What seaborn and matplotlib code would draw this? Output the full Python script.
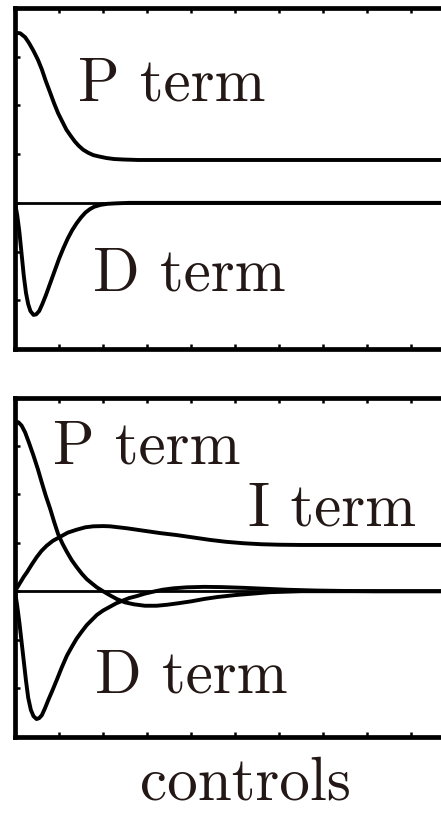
import matplotlib
matplotlib.use("Agg")
import matplotlib.pyplot as plt
import seaborn as sns
import pandas as pd

# ---- PD controller: response of each term ----
pd_p_t = [0, 0.04, 0.12, 0.23, 0.32, 0.42, 0.52, 0.61, 0.70, 0.80, 0.89, 0.98, 1.08,
          1.17, 1.27, 1.36, 1.45, 1.55, 1.66, 1.78, 1.92, 2.08, 2.25, 2.46, 2.8, 3.5, 10]
pd_p_v = [3.46, 3.49, 3.48, 3.40, 3.28, 3.12, 2.94, 2.74, 2.50, 2.26, 2.04, 1.84, 1.66,
          1.50, 1.37, 1.26, 1.17, 1.09, 1.03, 0.98, 0.95, 0.92, 0.90, 0.89, 0.88, 0.88, 0.88]

pd_d_t = [0, 0.05, 0.1, 0.15, 0.2, 0.25, 0.3, 0.35, 0.42, 0.48, 0.55, 0.62, 0.7, 0.8,
          0.9, 1.0, 1.1, 1.2, 1.3, 1.4, 1.5, 1.6, 1.7, 1.8, 1.95, 2.1, 2.3, 2.6, 10]
pd_d_v = [0, -0.25, -0.6, -1.05, -1.5, -1.85, -2.08, -2.22, -2.30, -2.29, -2.22, -2.08,
          -1.9, -1.65, -1.40, -1.15, -0.93, -0.73, -0.56, -0.42, -0.30, -0.20, -0.13,
          -0.08, -0.04, -0.02, -0.01, 0, 0]

# ---- PID controller: response of each term ----
pid_p_t = [0, 0.075, 0.15, 0.23, 0.32, 0.42, 0.52, 0.61, 0.70, 0.80, 0.89, 0.98, 1.08,
           1.18, 1.29, 1.40, 1.52, 1.63, 1.75, 1.86, 2.0, 2.15, 2.31, 2.5, 2.7, 2.95,
           3.22, 3.45, 3.7, 4.0, 4.3, 4.6, 5.0, 5.4, 5.8, 6.5, 10]
pid_p_v = [3.47, 3.49, 3.42, 3.28, 3.06, 2.80, 2.52, 2.24, 1.97, 1.70, 1.43, 1.18, 0.98,
           0.81, 0.64, 0.50, 0.36, 0.25, 0.16, 0.08, 0.0, -0.08, -0.16, -0.23, -0.27,
           -0.30, -0.30, -0.28, -0.25, -0.21, -0.16, -0.12, -0.08, -0.05, -0.02, 0.0, 0.0]

pid_i_t = [0, 0.1, 0.2, 0.27, 0.38, 0.49, 0.6, 0.72, 0.86, 1.02, 1.2, 1.40, 1.6, 1.78,
           2.0, 2.16, 2.35, 2.54, 2.92, 3.30, 3.67, 4.05, 4.43, 4.8, 5.2, 5.6, 6.0, 6.5, 10]
pid_i_v = [0, 0.15, 0.30, 0.39, 0.55, 0.70, 0.83, 0.94, 1.04, 1.12, 1.21, 1.27, 1.32,
           1.34, 1.345, 1.34, 1.32, 1.30, 1.25, 1.20, 1.16, 1.11, 1.06, 1.02, 0.99,
           0.97, 0.96, 0.955, 0.955]

pid_d_t = [0, 0.05, 0.1, 0.15, 0.2, 0.25, 0.3, 0.36, 0.42, 0.49, 0.55, 0.61, 0.68, 0.76,
           0.85, 0.95, 1.06, 1.18, 1.29, 1.40, 1.52, 1.63, 1.75, 1.86, 2.0, 2.16, 2.3,
           2.46, 2.6, 2.77, 2.95, 3.14, 3.35, 3.6, 3.9, 4.3, 4.7, 5.2, 5.7, 6.2, 6.8,
           7.5, 8.2, 10]
pid_d_v = [0, -0.3, -0.65, -1.05, -1.45, -1.85, -2.2, -2.45, -2.58, -2.64, -2.62, -2.56,
           -2.42, -2.24, -2.05, -1.83, -1.58, -1.33, -1.15, -0.98, -0.83, -0.70, -0.59,
           -0.49, -0.40, -0.32, -0.25, -0.19, -0.14, -0.10, -0.05, -0.01, 0.03, 0.06,
           0.08, 0.09, 0.085, 0.07, 0.05, 0.03, 0.015, 0.005, 0, 0]

x_ticks = list(range(0, 11))
y_ticks = list(range(-3, 5))

sns.set_theme(style="ticks")
plt.rcParams["font.family"] = ["cmr10", "DejaVu Serif"]

W, H = 441, 823
fig = plt.figure(figsize=(W / 100, H / 100), dpi=100)

TEXT = "#231815"
LINE_W = 2.8
FS = 44


def frame(top_px, bottom_px):
    ax = fig.add_axes([15 / W, 1 - bottom_px / H, 440 / W, (bottom_px - top_px) / H])
    ax.set_xlim(0, 10)
    ax.set_ylim(-3, 4)
    ax.set_xticks(x_ticks)
    ax.set_yticks(y_ticks)
    ax.set_xticklabels([])
    ax.set_yticklabels([])
    ax.tick_params(direction="in", length=3.5, width=1.8, color="black",
                   top=True, bottom=True, left=True, right=False)
    for s in ax.spines.values():
        s.set_linewidth(3.4)
        s.set_color("black")
    ax.axhline(0, color="black", lw=2.0, zorder=1)
    ax.set_xlabel("")
    ax.set_ylabel("")
    return ax


def curve(ax, t, v):
    df = pd.DataFrame({"t": t, "v": v})
    sns.lineplot(data=df, x="t", y="v", ax=ax, color="black", lw=LINE_W,
                 sort=False, estimator=None, zorder=3)
    ax.set_xlabel("")
    ax.set_ylabel("")


ax1 = frame(8, 349)
curve(ax1, pd_p_t, pd_p_v)
curve(ax1, pd_d_t, pd_d_v)
ax1.text(1.43, 2.11, "P term", fontsize=FS, color=TEXT, ha="left", va="baseline")
ax1.text(1.77, -1.79, "D term", fontsize=FS, color=TEXT, ha="left", va="baseline")

ax2 = frame(397.5, 736.5)
curve(ax2, pid_p_t, pid_p_v)
curve(ax2, pid_i_t, pid_i_v)
curve(ax2, pid_d_t, pid_d_v)
ax2.text(0.87, 2.63, "P term", fontsize=FS, color=TEXT, ha="left", va="baseline")
ax2.text(5.30, 1.36, "I term", fontsize=FS, color=TEXT, ha="left", va="baseline")
ax2.text(1.82, -2.09, "D term", fontsize=FS, color=TEXT, ha="left", va="baseline")

fig.text(246 / W, 1 - 800 / H, "controls", fontsize=FS, color=TEXT,
         ha="center", va="baseline")

fig.savefig("out.png", dpi=100, facecolor="white")
